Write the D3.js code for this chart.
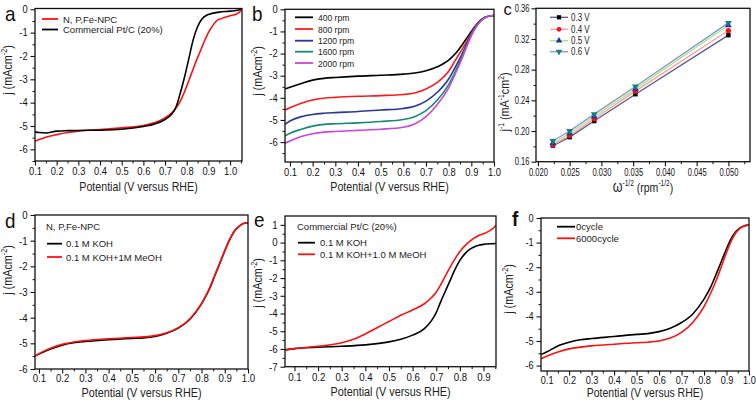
<!DOCTYPE html>
<html><head><meta charset="utf-8">
<script src="https://cdn.jsdelivr.net/npm/d3@7"></script>
<style>body{margin:0;background:#fff}svg{display:block;font-family:"Liberation Sans",Arial,sans-serif}</style>
</head><body><svg id="c" width="756" height="400"></svg>
<script>
// ---------- DATA ----------
// panel a
const aV = [0.1,0.12,0.15,0.2,0.25,0.3,0.4,0.5,0.6,0.65,0.7,0.73,0.75,0.77,0.79,0.81,0.83,0.85,0.87,0.9,0.95,1.0,1.04,1.055];
const aPtC = [-5.25,-5.28,-5.3,-5.22,-5.2,-5.19,-5.18,-5.14,-5.02,-4.92,-4.72,-4.5,-4.2,-3.6,-2.9,-2.1,-1.3,-0.75,-0.42,-0.22,-0.12,-0.08,-0.03,0.05];
const aV2 = [0.1,0.15,0.2,0.25,0.3,0.4,0.5,0.6,0.65,0.7,0.73,0.76,0.78,0.8,0.82,0.84,0.86,0.88,0.9,0.92,0.94,0.96,1.0,1.03,1.05,1.055];
const aNPC = [-5.65,-5.48,-5.37,-5.28,-5.22,-5.15,-5.08,-4.98,-4.86,-4.65,-4.45,-4.1,-3.75,-3.3,-2.8,-2.3,-1.85,-1.4,-1.0,-0.7,-0.48,-0.4,-0.28,-0.2,-0.05,0.05];
// panel b
const bV = [0.078,0.1,0.15,0.2,0.25,0.3,0.4,0.5,0.6,0.65,0.7,0.75,0.8,0.83,0.86,0.88,0.9,0.92,0.94,0.96,0.98,1.0];
const b400 = [-3.6,-3.52,-3.35,-3.2,-3.12,-3.08,-3.02,-2.98,-2.93,-2.88,-2.78,-2.6,-2.3,-2.0,-1.6,-1.3,-1.0,-0.72,-0.5,-0.36,-0.3,-0.28];
const b800 = [-4.55,-4.45,-4.25,-4.1,-4.02,-3.98,-3.93,-3.9,-3.85,-3.78,-3.6,-3.3,-2.8,-2.3,-1.8,-1.45,-1.08,-0.75,-0.52,-0.37,-0.3,-0.28];
const b1200 = [-5.2,-5.05,-4.85,-4.75,-4.7,-4.67,-4.62,-4.55,-4.48,-4.38,-4.15,-3.75,-3.15,-2.6,-2.0,-1.55,-1.12,-0.78,-0.53,-0.37,-0.3,-0.28];
const b1600 = [-5.72,-5.6,-5.42,-5.28,-5.2,-5.17,-5.13,-5.07,-4.98,-4.85,-4.58,-4.1,-3.4,-2.8,-2.1,-1.62,-1.15,-0.8,-0.54,-0.38,-0.3,-0.28];
const b2000 = [-6.05,-5.95,-5.75,-5.62,-5.55,-5.52,-5.47,-5.42,-5.33,-5.18,-4.85,-4.3,-3.55,-2.9,-2.2,-1.68,-1.2,-0.82,-0.55,-0.38,-0.3,-0.28];
const bLabels = ["400 rpm","800 rpm","1200 rpm","1600 rpm","2000 rpm"];
// panel c (Koutecky-Levich)
const cX = [0.02236,0.025,0.02887,0.03536,0.05];
const c03 = [0.181,0.192,0.213,0.248,0.325];
const c04 = [0.182,0.194,0.216,0.252,0.331];
const c05 = [0.184,0.197,0.219,0.255,0.338];
const c06 = [0.187,0.200,0.222,0.258,0.341];
const cLabels = ["0.3 V","0.4 V","0.5 V","0.6 V"];
// panel d
const dV = [0.083,0.1,0.15,0.2,0.25,0.3,0.4,0.5,0.55,0.6,0.65,0.7,0.75,0.8,0.83,0.86,0.88,0.9,0.92,0.94,0.96,0.98,1.0];
const dKOH = [-5.5,-5.42,-5.22,-5.07,-4.98,-4.93,-4.86,-4.81,-4.79,-4.73,-4.61,-4.41,-4.06,-3.46,-2.96,-2.3,-1.85,-1.4,-0.98,-0.65,-0.45,-0.33,-0.3];
const dMeOH = [-5.49,-5.4,-5.19,-5.04,-4.95,-4.89,-4.82,-4.77,-4.75,-4.7,-4.59,-4.39,-4.04,-3.44,-2.94,-2.28,-1.84,-1.39,-0.97,-0.64,-0.45,-0.33,-0.3];
// panel e
const eV = [0.06,0.1,0.2,0.3,0.4,0.5,0.55,0.6,0.65,0.68,0.7,0.72,0.74,0.76,0.78,0.8,0.82,0.84,0.86,0.88,0.9,0.953];
const eKOH = [-6.05,-5.98,-5.9,-5.85,-5.77,-5.6,-5.45,-5.22,-4.85,-4.4,-3.95,-3.3,-2.7,-2.1,-1.5,-1.0,-0.65,-0.4,-0.25,-0.15,-0.1,-0.05];
const eV2 = [0.06,0.1,0.2,0.3,0.35,0.4,0.45,0.5,0.55,0.6,0.65,0.68,0.7,0.72,0.74,0.76,0.78,0.8,0.82,0.84,0.86,0.88,0.9,0.92,0.94,0.953];
const eMeOH = [-6.05,-5.98,-5.85,-5.65,-5.45,-5.15,-4.8,-4.45,-4.1,-3.8,-3.45,-3.1,-2.8,-2.35,-1.85,-1.35,-0.9,-0.5,-0.2,0.05,0.25,0.4,0.5,0.62,0.8,0.98];
// panel f
const fV = [0.075,0.1,0.15,0.2,0.25,0.3,0.4,0.5,0.55,0.6,0.65,0.7,0.75,0.8,0.83,0.86,0.88,0.9,0.92,0.94,0.96,0.98,1.0];
const f0 = [-5.55,-5.45,-5.2,-5.05,-4.95,-4.9,-4.82,-4.73,-4.7,-4.62,-4.48,-4.25,-3.9,-3.3,-2.8,-2.15,-1.7,-1.25,-0.85,-0.57,-0.4,-0.32,-0.28];
const f6000 = [-5.72,-5.62,-5.45,-5.32,-5.25,-5.2,-5.13,-5.07,-5.05,-5.0,-4.88,-4.65,-4.25,-3.6,-3.05,-2.4,-1.9,-1.4,-0.95,-0.62,-0.42,-0.32,-0.28];

// ---------- DRAW ----------
const svg = d3.select("#c");
const SQ = 0.8; // horizontal condensation of titles
const fmt1 = v => d3.format(".1f")(v);
const fmtI = v => d3.format("d")(v).replace("\u2212","-");
const zip = (xs, ys) => xs.map((x,i)=>[x,ys[i]]);
const range = (a,b,s)=>d3.range(Math.round((b-a)/s)+1).map(i=>+(a+i*s).toFixed(5));

function styleAxis(a, fs, sx){
  a.select(".domain").remove();
  a.selectAll("text").attr("font-size",fs).attr("fill","#111")
    .attr("font-family","Liberation Sans, Arial, sans-serif")
    .attr("transform",`scale(${sx},1)`);
  a.selectAll("line").attr("stroke","#111").attr("stroke-width",1.1);
}
function addAxes(g,o,x,y){
  g.append("g").attr("transform",`translate(0,${o.b})`)
    .call(d3.axisBottom(x).tickValues(o.xminor).tickSize(2.5).tickFormat(""))
    .call(s=>{s.select(".domain").remove(); s.selectAll("line").attr("stroke","#111");});
  g.append("g").attr("transform",`translate(${o.l},0)`)
    .call(d3.axisLeft(y).tickValues(o.yminor).tickSize(2.5).tickFormat(""))
    .call(s=>{s.select(".domain").remove(); s.selectAll("line").attr("stroke","#111");});
  const xa = g.append("g").attr("transform",`translate(0,${o.b})`)
    .call(d3.axisBottom(x).tickValues(o.xticks).tickSize(4.5).tickPadding(o.xpad||2.5).tickFormat(o.xf));
  const ya = g.append("g").attr("transform",`translate(${o.l},0)`)
    .call(d3.axisLeft(y).tickValues(o.yticks).tickSize(4.5).tickPadding(o.ypad||3.5).tickFormat(o.yf));
  styleAxis(xa,o.tfs||10.5,o.tsx||0.92);
  styleAxis(ya,o.tfs||10.5,o.tsx||0.92);
}
function ctext(parent,x,y,fs,anchor,sx){
  return parent.append("text").attr("transform",`translate(${x},${y}) scale(${sx==null?SQ:sx},1)`)
    .attr("text-anchor",anchor||"start").attr("font-size",fs).attr("fill","#222");
}

function panel(o){
  const g = svg.append("g");
  const x = d3.scaleLinear().domain(o.xd).range([o.l,o.r]);
  const y = d3.scaleLinear().domain(o.yd).range([o.b,o.t]);
  addAxes(g,o,x,y);
  const id = "clip"+o.name;
  svg.append("clipPath").attr("id",id).append("rect").attr("x",o.l).attr("y",o.t).attr("width",o.r-o.l).attr("height",o.b-o.t);
  const pg = g.append("g").attr("clip-path",`url(#${id})`);
  const line = d3.line().x(d=>x(d[0])).y(d=>y(d[1])).curve(d3.curveMonotoneX);
  o.series.forEach(s=>{
    pg.append("path").datum(s.data).attr("d",line).attr("fill","none").attr("stroke",s.color).attr("stroke-width",1.6);
  });
  g.append("rect").attr("x",o.l).attr("y",o.t).attr("width",o.r-o.l).attr("height",o.b-o.t).attr("fill","none").attr("stroke","#111").attr("stroke-width",1.3);
  ctext(g,(o.l+o.r)/2,o.xty,o.xtfs||13.5,"middle",o.xtsx).text("Potential (V versus RHE)");
  const yt = g.append("text").attr("transform",`translate(${o.ytx},${o.yty}) rotate(-90) scale(${SQ},1)`)
    .attr("text-anchor","middle").attr("font-size",13.5).attr("fill","#222");
  yt.append("tspan").text("j (mAcm");
  yt.append("tspan").attr("font-size",9).attr("dy",-5).text("-2");
  yt.append("tspan").attr("dy",5).text(")");
  ctext(g,o.lx,o.ly,21,"start",0.9).attr("font-weight",o.bold?"bold":"normal").attr("fill","#111").text(o.name);
  return {g,x,y};
}
function legend(items, x0, x1, tx, ys, fs, sx){
  items.forEach((it,i)=>{
    svg.append("line").attr("x1",x0).attr("x2",x1).attr("y1",ys[i]).attr("y2",ys[i]).attr("stroke",it.color).attr("stroke-width",1.8);
    ctext(svg,tx,ys[i]+3.5,fs||9.5,"start",sx==null?1:sx).text(it.label);
  });
}

// a
panel({name:"a",l:35,r:242,t:8.5,b:161,xd:[0.1,1.055],yd:[-6.5,0.034],
  xticks:range(0.1,1.0,0.1),xminor:range(0.15,1.05,0.1),yticks:range(-6,0,1),yminor:range(-6.5,-0.5,1),
  xf:fmt1,yf:fmtI,xty:190.5,xtfs:13,xtsx:0.82,tfs:10.2,ytx:12,yty:70,lx:5,ly:21,xpad:2.5,
  series:[{data:zip(aV2,aNPC),color:"#ff1010"},{data:zip(aV,aPtC),color:"#000"}]});
legend([{label:"N, P,Fe-NPC",color:"#ff1010"},{label:"Commercial Pt/C (20%)",color:"#000"}],42,58,63,[19,29.5],9.5);

// b
const bCol = ["#000","#ff1a1a","#27379a","#148a72","#c847dc"];
const bSer = [b400,b800,b1200,b1600,b2000];
panel({name:"b",l:285,r:494,t:9.3,b:162,xd:[0.078,1.0],yd:[-6.9,0],
  xticks:range(0.1,1.0,0.1),xminor:range(0.15,0.95,0.1),yticks:range(-6,0,1),yminor:range(-6.5,-0.5,1),
  xf:fmt1,yf:fmtI,xty:190.5,xtfs:13,xtsx:0.82,tfs:10.2,ytx:262,yty:71,lx:252,ly:21,xpad:2,
  series:bSer.map((s,i)=>({data:zip(bV,s),color:bCol[i]}))});
legend(bLabels.map((l,i)=>({label:l,color:bCol[i]})),295,313,318,[17.3,29,40.7,51.7,63],9.5,0.9);

// c
{
  const o={l:536,r:750,t:8.3,b:161.7,
    xticks:range(0.02,0.05,0.005),xminor:range(0.0225,0.0525,0.005),
    yticks:range(0.16,0.36,0.04),yminor:range(0.18,0.34,0.04),
    xf:d3.format(".3f"),yf:d3.format(".2f"),tfs:10,tsx:0.76,xpad:2.5,ypad:4};
  const g=svg.append("g");
  const x=d3.scaleLinear().domain([0.0197,0.0534]).range([o.l,o.r]);
  const y=d3.scaleLinear().domain([0.16,0.36]).range([o.b,o.t]);
  addAxes(g,o,x,y);
  const lineCol=["#56598c","#ff9a9e","#98ec8a","#8e90cc"];
  const mCol=["#000","#ff1010","#1f2fa6","#157f80"];
  const mSym=[d3.symbolSquare,d3.symbolCircle,d3.symbolTriangle,d3.symbolTriangle];
  const ser=[c03,c04,c05,c06];
  const line=d3.line().x(d=>x(d[0])).y(d=>y(d[1]));
  ser.forEach((s,i)=>{
    g.append("path").datum(zip(cX,s)).attr("d",line).attr("fill","none").attr("stroke",lineCol[i]).attr("stroke-width",1.3);
  });
  ser.forEach((s,i)=>{
    g.selectAll(null).data(zip(cX,s)).enter().append("path")
      .attr("d",d3.symbol().type(mSym[i]).size(i===1?22:20))
      .attr("transform",d=>`translate(${x(d[0])},${y(d[1])})${i===3?" rotate(180)":""}`)
      .attr("fill",mCol[i]);
  });
  g.append("rect").attr("x",o.l).attr("y",o.t).attr("width",o.r-o.l).attr("height",o.b-o.t).attr("fill","none").attr("stroke","#111").attr("stroke-width",1.3);
  const ly=[17.3,29.3,40.7,51.7];
  cLabels.forEach((l,i)=>{
    g.append("line").attr("x1",550).attr("x2",568).attr("y1",ly[i]).attr("y2",ly[i]).attr("stroke",lineCol[i]).attr("stroke-width",1.3);
    g.append("path").attr("d",d3.symbol().type(mSym[i]).size(18)).attr("transform",`translate(559,${ly[i]})${i===3?" rotate(180)":""}`).attr("fill",mCol[i]);
    ctext(g,571,ly[i]+3.5,10,"start",0.8).text(l);
  });
  const xt=ctext(g,(o.l+o.r)/2,192,13.5,"middle",0.78);
  xt.append("tspan").attr("font-size",16).text("ω");
  xt.append("tspan").attr("font-size",8.5).attr("dy",-6).text("-1/2");
  xt.append("tspan").attr("dy",6).text(" (rpm");
  xt.append("tspan").attr("font-size",8.5).attr("dy",-6).text("-1/2");
  xt.append("tspan").attr("dy",6).text(")");
  const yt=g.append("text").attr("transform","translate(509,102) rotate(-90) scale(0.8,1)").attr("text-anchor","middle").attr("font-size",13.5).attr("fill","#222");
  yt.append("tspan").text("j");
  yt.append("tspan").attr("font-size",8.5).attr("dy",-5).text("-1");
  yt.append("tspan").attr("dy",5).text(" (mA");
  yt.append("tspan").attr("font-size",8.5).attr("dy",-5).text("-1");
  yt.append("tspan").attr("dy",5).text("cm");
  yt.append("tspan").attr("font-size",8.5).attr("dy",-5).text("2");
  yt.append("tspan").attr("dy",5).text(")");
  ctext(g,503.5,15,16.5,"start",1).attr("fill","#111").text("c");
}

// d
panel({name:"d",l:35,r:248,t:215,b:369,xd:[0.083,1.0],yd:[-6,0],
  xticks:range(0.1,1.0,0.1),xminor:range(0.15,0.95,0.1),yticks:range(-6,0,1),yminor:range(-5.5,-0.5,1),
  xf:fmt1,yf:fmtI,xty:397,ytx:12,yty:270,lx:5,ly:228,xpad:1.5,
  series:[{data:zip(dV,dKOH),color:"#000"},{data:zip(dV,dMeOH),color:"#ff1010"}]});
ctext(svg,46,230,9.5,"start",1).text("N, P,Fe-NPC");
legend([{label:"0.1 M KOH",color:"#000"},{label:"0.1 M KOH+1M MeOH",color:"#ff1010"}],47,62,66,[243.7,257],9.5);

// e
panel({name:"e",l:285,r:496,t:216,b:366.7,xd:[0.06,0.953],yd:[-7,1.5],
  xticks:range(0.1,0.9,0.1),xminor:range(0.15,0.95,0.1),yticks:range(-7,1,1),yminor:range(-6.5,0.5,1),
  xf:fmt1,yf:fmtI,xty:395.5,ytx:262,yty:283,lx:254,ly:227,xpad:2,
  series:[{data:zip(eV,eKOH),color:"#000"},{data:zip(eV2,eMeOH),color:"#ff1010"}]});
ctext(svg,297,230,9.5,"start",1).text("Commercial Pt/C (20%)");
legend([{label:"0.1 M KOH",color:"#000"},{label:"0.1 M KOH+1.0 M MeOH",color:"#ff1010"}],298,315,320,[242.7,254.3],9.5);

// f
panel({name:"f",l:541,r:749,t:218,b:371,xd:[0.075,1.0],yd:[-6.22,0],bold:true,
  xticks:range(0.1,1.0,0.1),xminor:range(0.15,0.95,0.1),yticks:range(-6,0,1),yminor:range(-5.5,-0.5,1),
  xf:fmt1,yf:fmtI,xty:397.3,xtfs:12.8,xtsx:0.82,tfs:10,ytx:513,yty:289,lx:512,ly:226,xpad:1,
  series:[{data:zip(fV,f0),color:"#000"},{data:zip(fV,f6000),color:"#ff1010"}]});
legend([{label:"0cycle",color:"#000"},{label:"6000cycle",color:"#ff1010"}],557,575,576,[226.7,238.3],9.5);
</script></body></html>
